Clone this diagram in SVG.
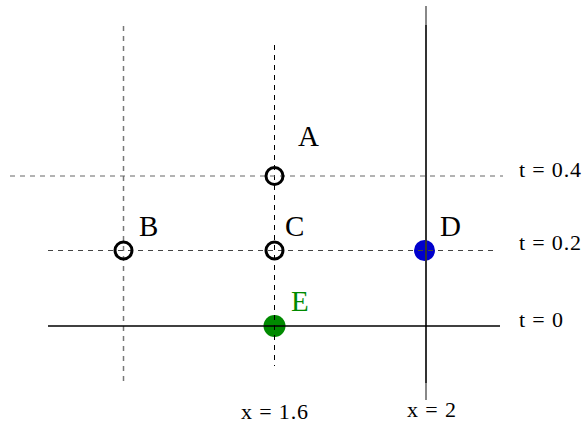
<svg xmlns="http://www.w3.org/2000/svg" width="582" height="425" viewBox="0 0 582 425">
<style>
.lbl{font-family:"Liberation Serif","Times New Roman",serif;font-size:29px;fill:#000}
.axl{font-family:"Liberation Serif","Times New Roman",serif;font-size:22px;fill:#000}
.ring{fill:none;stroke:#000;stroke-width:3}
</style>
<rect width="582" height="425" fill="#fff"/>
<g id="nodeD"><circle cx="424.5" cy="250.5" r="10.5" fill="#0000cc"/></g>
<g id="nodeE"><circle cx="274.5" cy="326" r="11" fill="#008a00"/></g>
<g id="connectors">
<line x1="123.5" y1="26" x2="123.5" y2="382" stroke="#777" stroke-width="1.5" stroke-dasharray="5 5"/>
<line x1="274.5" y1="45" x2="274.5" y2="366" stroke="#000" stroke-width="1" stroke-dasharray="5 5"/>
<line x1="426" y1="6" x2="426" y2="25" stroke="#888" stroke-width="2"/>
<line x1="426" y1="25" x2="426" y2="383" stroke="#333" stroke-width="2"/>
<line x1="426" y1="383" x2="426" y2="400" stroke="#888" stroke-width="2"/>
<line x1="10" y1="176" x2="503" y2="176" stroke="#666" stroke-width="1" stroke-dasharray="5 5"/>
<line x1="48" y1="250.5" x2="496" y2="250.5" stroke="#444" stroke-width="1" stroke-dasharray="5 5"/>
<line x1="48" y1="326" x2="500" y2="326" stroke="#000" stroke-width="1.5"/>
</g>
<g id="nodeA"><circle class="ring" cx="274.5" cy="176" r="8.5"/><text class="lbl" x="298" y="146">A</text></g>
<g id="nodeB"><circle class="ring" cx="123.5" cy="250.5" r="8.5"/><text class="lbl" x="139" y="236">B</text></g>
<g id="nodeC"><circle class="ring" cx="274.5" cy="250.5" r="8.5"/><text class="lbl" x="285" y="236">C</text></g>
<g id="labelD"><text class="lbl" x="440" y="236">D</text></g>
<g id="labelE"><text class="lbl" x="291" y="311" style="fill:#008a00">E</text></g>
<g id="axisLabels">
<text class="axl" x="519" y="177" textLength="62" lengthAdjust="spacing">t = 0.4</text>
<text class="axl" x="519" y="250" textLength="62" lengthAdjust="spacing">t = 0.2</text>
<text class="axl" x="519" y="327" textLength="44" lengthAdjust="spacing">t = 0</text>
<text class="axl" x="241" y="419" textLength="67" lengthAdjust="spacing">x = 1.6</text>
<text class="axl" x="407" y="417" textLength="49" lengthAdjust="spacing">x = 2</text>
</g>
</svg>
